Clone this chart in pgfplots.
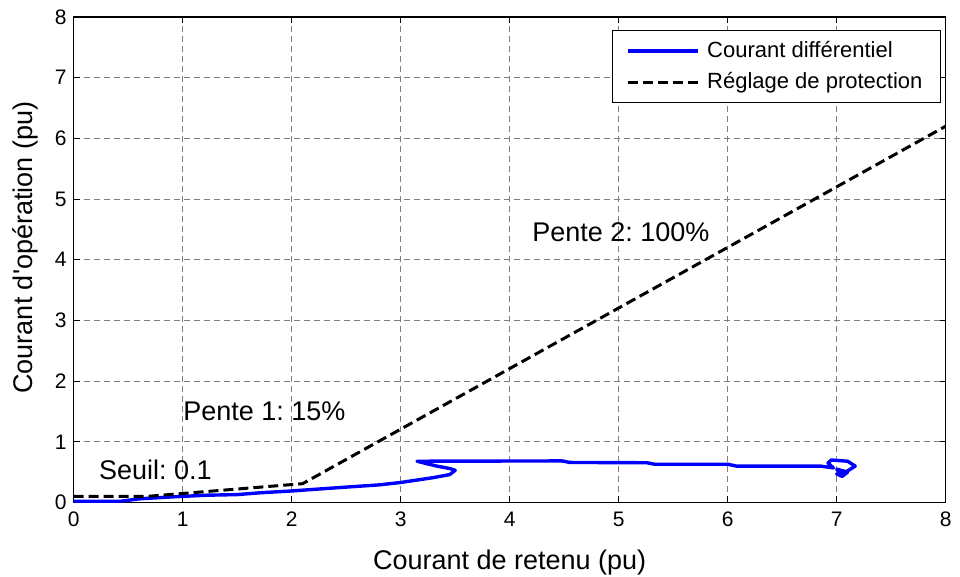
\documentclass[border=0pt]{standalone}
\usepackage{pgfplots}
\pgfplotsset{compat=1.18}
\usetikzlibrary{calc}
\usepackage{fontspec}
\setmainfont{Liberation Sans}
\frenchspacing
\begin{document}
\begin{tikzpicture}
\begin{axis}[
  scale only axis, width=436pt, height=242.75pt,
  xmin=0, xmax=8, ymin=0, ymax=8,
  xtick={0,...,8}, ytick={0,...,8},
  tick align=inside, tick pos=both,
  major tick length=3pt,
  grid=major,
  major grid style={gray, dash pattern=on 3pt off 2pt, line width=0.5pt},
  axis line style={line width=0.6pt},
  tick style={black, line width=0.5pt},
  ticklabel style={font=\fontsize{10.5}{12}\selectfont},
  xticklabel style={yshift=-1pt},
  /pgf/number format/assume math mode=true,
  xlabel={Courant de retenu (pu)},
  ylabel={Courant d\textquotesingle opération (pu)},
  label style={font=\fontsize{13.5}{15}\selectfont},
  xlabel style={at={(axis description cs:0.5,-0.124)}, anchor=center},
  ylabel style={at={(axis description cs:-0.0558,0.525)}, anchor=center},
  legend style={at={(axis description cs:0.9946,0.973)}, anchor=north east,
    draw=black, fill=white, font=\fontsize{11}{13}\selectfont,
    inner xsep=7pt, inner ysep=3.5pt, row sep=2pt, column sep=2pt,
    line width=0.5pt},
  legend cell align=left,
  legend image code/.code={\draw[#1] (0cm,0cm) -- (1.22cm,0cm);},
]
\addplot[blue, line width=1.7pt, line join=round] coordinates {
(0,0.02) (0.43,0.02) (0.6,0.06) (0.88,0.09) (1.22,0.12) (1.5,0.13)
(1.71,0.16) (2.0,0.19) (2.47,0.25) (2.8,0.29) (3.0,0.33) (3.3,0.41)
(3.45,0.46) (3.5,0.53) (3.45,0.56) (3.33,0.6) (3.15,0.68)
(4.48,0.685) (4.55,0.66) (5.26,0.655) (5.33,0.63) (6.0,0.63)
(6.08,0.6) (6.85,0.6) (6.97,0.57) (6.92,0.65) (6.95,0.7) (7.1,0.68)
(7.17,0.6) (7.1,0.52) (7.0,0.47) (7.05,0.43) (7.1,0.5) (7.0,0.55)
(7.05,0.45)
};
\addlegendentry{Courant différentiel}
\addplot[black, line width=1.5pt, dash pattern=on 5pt off 2.5pt] coordinates {
(0,0.1) (0.67,0.1) (2.1,0.31) (8,6.2)
};
\addlegendentry{Réglage de protection}
\node[font=\fontsize{13.5}{15}\selectfont] at (axis cs:0.75,0.53) {Seuil: 0.1};
\node[font=\fontsize{13.5}{15}\selectfont] at (axis cs:1.75,1.5) {Pente 1: 15\%};
\node[font=\fontsize{13.5}{15}\selectfont] at (axis cs:5.02,4.45) {Pente 2: 100\%};
\end{axis}
\pgfresetboundingbox
\path[use as bounding box] ($(current axis.south west)+(-36.85pt,-37.25pt)$) rectangle ($(current axis.north east)+(7.15pt,8.5pt)$);
\end{tikzpicture}
\end{document}
